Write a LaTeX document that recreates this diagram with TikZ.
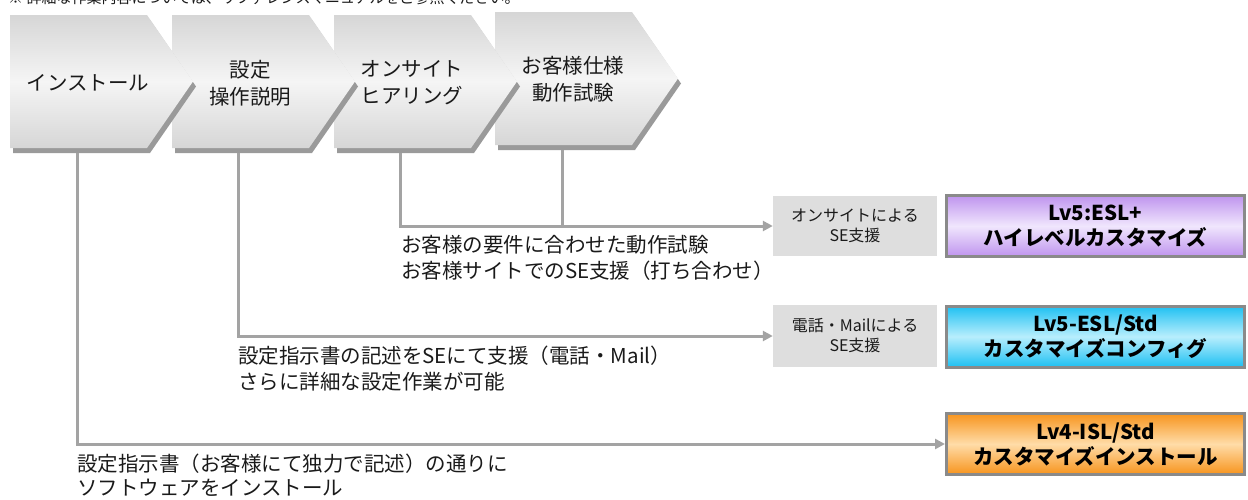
\documentclass[tikz,border=0pt]{standalone}
\usepackage{fontspec}
\setmainfont{Noto Sans CJK JP}
\usetikzlibrary{arrows.meta,calc}
\definecolor{chevEdge}{HTML}{D6D6D6}
\definecolor{chevMid}{HTML}{F5F5F5}
\definecolor{shadowgray}{HTML}{9A9A9A}
\definecolor{linegray}{HTML}{A3A3A3}
\definecolor{boxgray}{HTML}{DEDEDE}
\definecolor{bordergray}{HTML}{8A8A8A}
\definecolor{txt}{HTML}{1A1A1A}
\definecolor{purEdge}{HTML}{BF94EE}
\definecolor{purMid}{HTML}{F0E6FD}
\definecolor{bluEdge}{HTML}{1EC0F2}
\definecolor{bluMid}{HTML}{B8EEFD}
\definecolor{oraEdge}{HTML}{F7941D}
\definecolor{oraMid}{HTML}{FFDCA8}
\newcommand\mychev[3]{% L, T, B
  \fill[shadowgray] ({#1+3},{#2+5}) -- ({#1+140},{#2+5}) -- ({#1+186},{(#2+#3)/2+5}) -- ({#1+140},{#3+5}) -- ({#1+3},{#3+5}) -- cycle;
  \path[chevfill] (#1,#2) -- ({#1+137},#2) -- ({#1+183},{(#2+#3)/2}) -- ({#1+137},#3) -- (#1,#3) -- cycle;
}
\begin{document}
\begin{tikzpicture}[x=1pt,y=-1pt,
  chevfill/.style={top color=chevEdge,bottom color=chevEdge,middle color=chevMid},
  chevlabel/.style={font=\fontsize{20.5}{27}\selectfont,align=center,text=txt,inner sep=0pt},
  conn/.style={draw=linegray,line width=3pt},
  arr/.style={conn,-{Triangle[length=10pt,width=10pt]}},
  desc/.style={font=\fontsize{20.5}{26}\selectfont,align=left,anchor=west,inner sep=0pt,text=txt},
  sebox/.style={fill=boxgray,minimum width=164pt,minimum height=60pt,font=\fontsize{16}{20}\selectfont,align=center,inner sep=0pt,text=txt},
  lvbox/.style={draw=bordergray,line width=3pt,minimum width=298pt,minimum height=61pt,font=\bfseries\fontsize{20.5}{25}\selectfont,align=center,inner sep=0pt}
]
\useasboundingbox (0,0) rectangle (1248,499);

\node[anchor=base west,inner sep=0pt,text=txt,font=\fontsize{15}{16}\selectfont] (note) at (8,3.5) {※ 詳細な作業内容については、リファレンスマニュアルをご参照ください。};

% chevrons, right to left so that the left ones lie on top
\mychev{495}{12}{145}
\mychev{334}{15}{148}
\mychev{172}{15}{148}
\mychev{10}{15}{148}

\node[chevlabel] (ch1) at (88,83) {インストール};
\node[chevlabel] (ch2) at (250,83) {設定\\操作説明};
\node[chevlabel] (ch3) at (412,83) {オンサイト\\ヒアリング};
\node[chevlabel] (ch4) at (573,79) {お客様仕様\\動作試験};

\coordinate (ch1b) at (77,153);
\coordinate (ch2b) at (238,153);
\coordinate (ch3b) at (400,153);
\coordinate (ch4b) at (562,150);

% boxes
\node[sebox] (g3) at (855,226) {オンサイトによる\\SE支援};
\node[sebox,minimum height=62pt] (g2) at (855,336) {電話・Mailによる\\SE支援};
\node[lvbox,top color=purEdge,bottom color=purEdge,middle color=purMid] (lv5a) at (1095.5,226) {Lv5:ESL+\\ハイレベルカスタマイズ};
\node[lvbox,top color=bluEdge,bottom color=bluEdge,middle color=bluMid] (lv5b) at (1095.5,336.5) {Lv5-ESL/Std\\カスタマイズコンフィグ};
\node[lvbox,top color=oraEdge,bottom color=oraEdge,middle color=oraMid] (lv4) at (1095.5,444) {Lv4-ISL/Std\\カスタマイズインストール};

% connectors
\draw[arr] (ch3b) |- (g3.west);
\draw[conn] (ch4b) -- (ch4b |- g3.west);
\draw[arr] (ch2b) |- (g2.west);
\draw[arr] (ch1b) |- (lv4.west);

% descriptions
\node[desc] (d3) at (401,258) {お客様の要件に合わせた動作試験\\お客様サイトでのSE支援（打ち合わせ）};
\node[desc] (d2) at (238,369) {設定指示書の記述をSEにて支援（電話・Mail）\\さらに詳細な設定作業が可能};
\node[desc,font=\fontsize{20.5}{24}\selectfont] (d1) at (77,475) {設定指示書（お客様にて独力で記述）の通りに\\ソフトウェアをインストール};
\end{tikzpicture}
\end{document}
